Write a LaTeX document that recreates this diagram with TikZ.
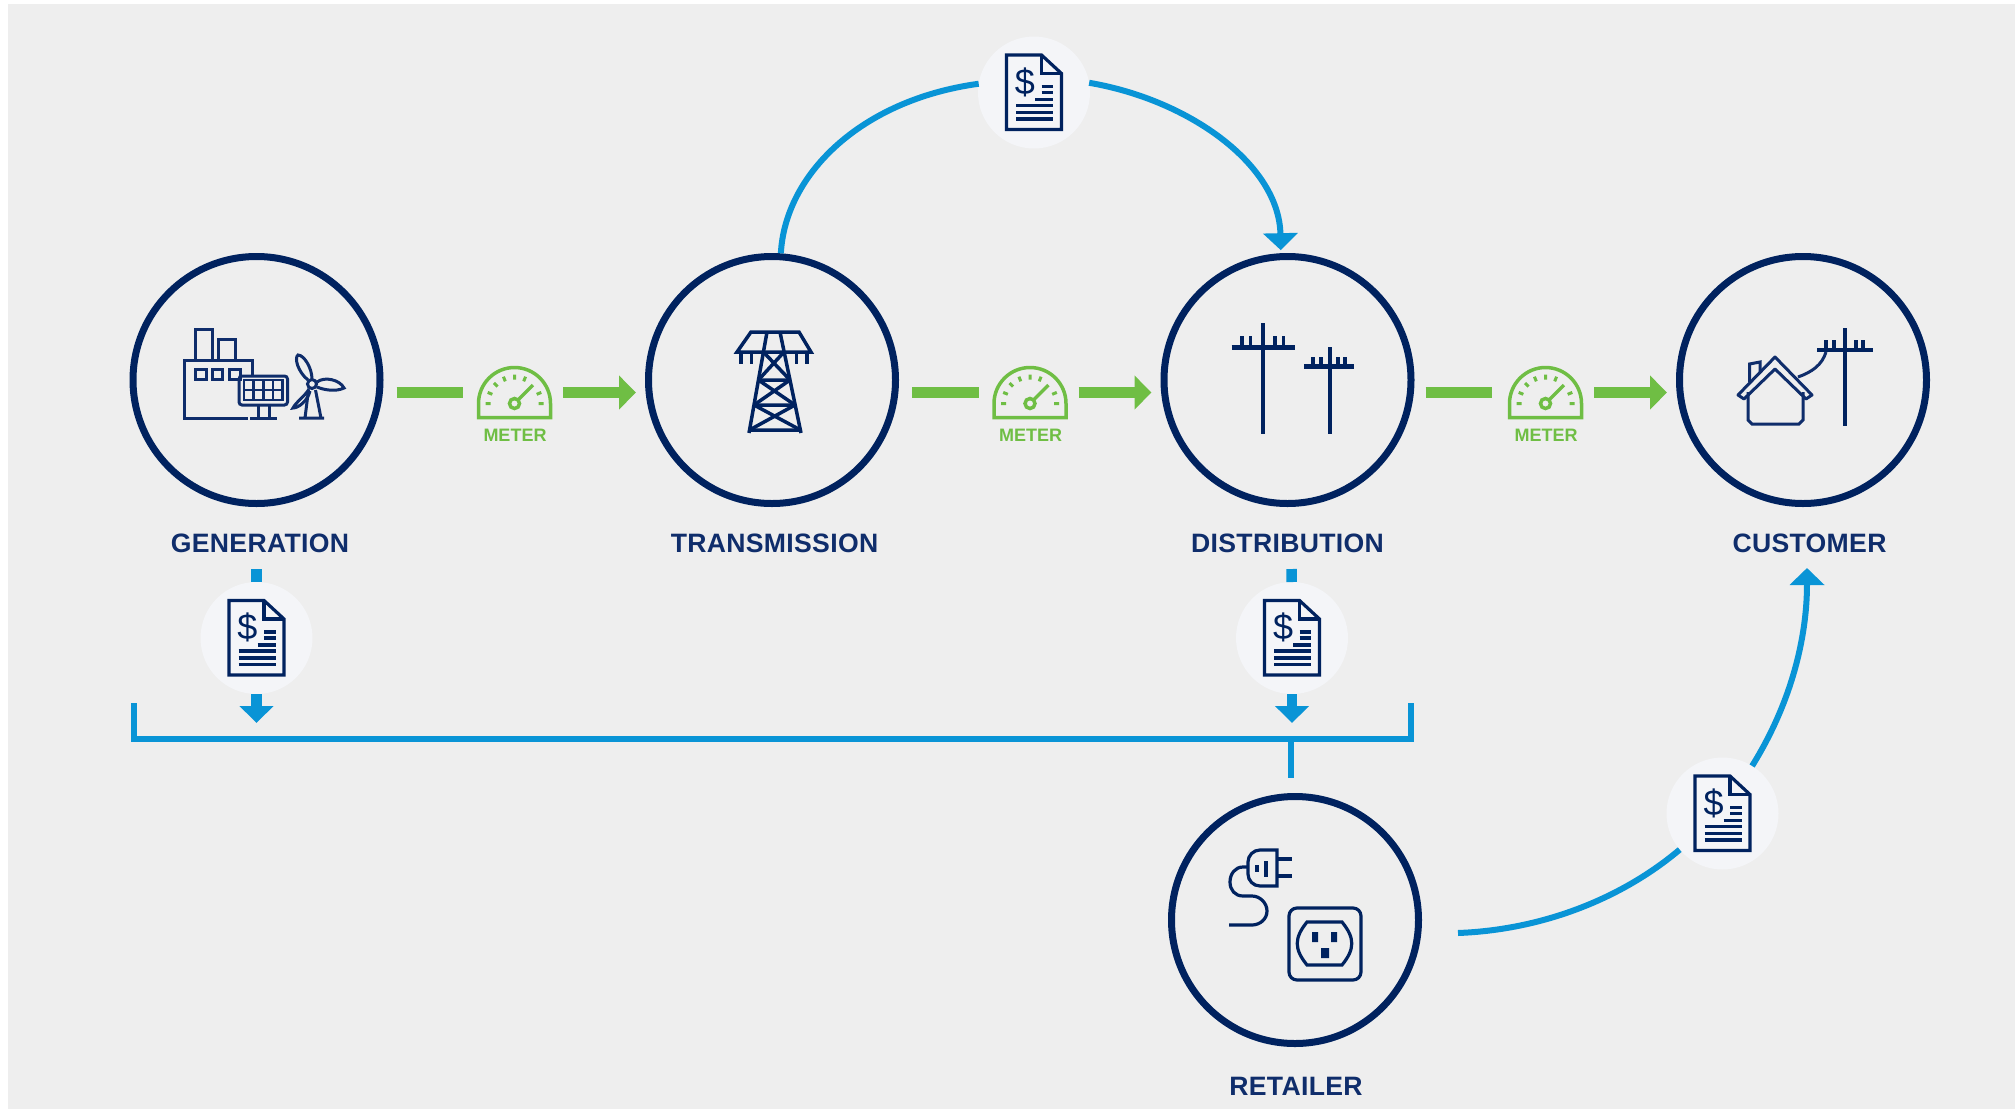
\documentclass[tikz,border=0pt]{standalone}
\usepackage{fontspec}
\setmainfont{Liberation Sans}
\usetikzlibrary{arrows.meta}
\definecolor{navy}{HTML}{00225F}
\definecolor{inkblue}{HTML}{0F2D6B}
\definecolor{skyblue}{HTML}{0994D6}
\definecolor{grassgreen}{HTML}{6FBE44}
\definecolor{pagegray}{HTML}{EEEEEE}
\definecolor{billgray}{HTML}{F4F5F8}

\begin{document}
\begin{tikzpicture}
[x=0.5pt,y=-0.5pt,
 station/.style={draw=navy,circle,line width=3.5pt,minimum size=123.5pt,inner sep=0pt},
 billspot/.style={fill=billgray,circle,minimum size=56pt,inner sep=0pt,outer sep=0pt},
 meterbox/.style={rectangle,minimum width=37.5pt,minimum height=26.5pt,inner sep=0pt,outer sep=0pt},
 tag/.style={anchor=base,text=inkblue,font={\fontsize{13.3}{16}\selectfont\bfseries\addfontfeature{LetterSpace=1.2}}},
 metertag/.style={anchor=base,text=grassgreen,font={\fontsize{9}{11}\selectfont\bfseries}},
 greenbar/.style={draw=grassgreen,line width=5.5pt},
 greenarrow/.style={greenbar,-{Triangle[length=8.5pt,width=16.5pt]}},
 bluebar/.style={draw=skyblue,line width=5.25pt},
 bluedrop/.style={bluebar,-{Triangle[length=8.5pt,width=16.5pt]}},
 blueline/.style={draw=skyblue,line width=3pt},
 bluecurve/.style={blueline,-{Triangle[length=8.5pt,width=17pt]}},
 bracket/.style={draw=skyblue,line width=3pt},
 glyph/.style={draw=navy,line width=1.6pt},
 thinglyph/.style={draw=inkblue,line width=1.5pt},
 pics/billglyph/.style={code={
   \draw[glyph] (-27.5,-37.5) -- (7.5,-37.5) -- (27.5,-19) -- (27.5,37) -- (-27.5,37) -- cycle;
   \draw[glyph] (7.5,-37.5) -- (7.5,-19) -- (27.5,-19);
   \draw[glyph] (7.5,-6) -- (19,-6) (7.5,0) -- (19,0) (1,7) -- (19,7);
   \draw[glyph] (-18,13) -- (19,13) (-18,20) -- (19,20) (-18,26.5) -- (19,26.5);
   \node (sign) at (-9,-10.5) [text=navy,inner sep=0pt,font={\fontsize{18}{20}\selectfont}] {\$};
 }},
 pics/meterglyph/.style={code={
   \draw[draw=grassgreen,line width=1.75pt] (-36,25) -- (-36,11) arc[start angle=180,end angle=360,radius=36] -- (36,25) -- cycle;
   \begin{scope}[shift={(0,11)}]
     \draw[draw=grassgreen,line width=1.75pt] (0,0) circle (2.5pt);
     \draw[draw=grassgreen,line width=1.75pt] (315:5) -- (315:26);
     \draw[draw=grassgreen,line width=1.5pt] (180:24) -- (180:29) (202.5:24) -- (202.5:29)
       (225:24) -- (225:29) (247.5:24) -- (247.5:29) (270:24) -- (270:29)
       (292.5:24) -- (292.5:29) (337.5:24) -- (337.5:29) (360:24) -- (360:29);
   \end{scope}
 }}]
\useasboundingbox (0,0) rectangle (2015,1109);
\fill[pagegray] (8,4) rectangle (2015,1109);

% stations
\node (n1) at (256.5,380) [station] {};
\node (n2) at (772,380) [station] {};
\node (n3) at (1287.5,380) [station] {};
\node (n4) at (1803,380) [station] {};
\node (n5) at (1295,920) [station] {};

\node (l1) at (260,552.5) [tag] {GENERATION};
\node (l2) at (774.5,552.5) [tag] {TRANSMISSION};
\node (l3) at (1287.5,552.5) [tag] {DISTRIBUTION};
\node (l4) at (1809.5,552.5) [tag] {CUSTOMER};
\node (l5) at (1296,1095) [tag] {RETAILER};

% meters
\node (m1) at (514.5,392.5) [meterbox] {};
\node (m2) at (1030,392.5) [meterbox] {};
\node (m3) at (1545.5,392.5) [meterbox] {};
\pic (g1) at (m1) {meterglyph};
\pic (g2) at (m2) {meterglyph};
\pic (g3) at (m3) {meterglyph};
\node (t1) at (515,441) [metertag] {METER};
\node (t2) at (1030.5,441) [metertag] {METER};
\node (t3) at (1546,441) [metertag] {METER};

\draw[greenbar,shorten <=6.5pt,shorten >=7pt] (n1.east |- m1) -- (m1);
\draw[greenbar,shorten <=6.5pt,shorten >=7pt] (n2.east |- m2) -- (m2);
\draw[greenbar,shorten <=5.5pt,shorten >=8pt] (n3.east |- m3) -- (m3);
\draw[greenarrow,shorten <=5.5pt,shorten >=4.5pt] (m1) -- (n2.west |- m1);
\draw[greenarrow,shorten <=5.5pt,shorten >=4.5pt] (m2) -- (n3.west |- m2);
\draw[greenarrow,shorten <=5.5pt,shorten >=4.5pt] (m3) -- (n4.west |- m3);

% bills
\node (b1) at (1034,92.5) [billspot] {};
\node (b2) at (256.5,638) [billspot] {};
\node (b3) at (1292,638) [billspot] {};
\node (b4) at (1722.5,813.5) [billspot] {};
\pic (i1) at (b1) {billglyph};
\pic (i2) at (b2) {billglyph};
\pic (i3) at (b3) {billglyph};
\pic (i4) at (b4) {billglyph};

\coordinate (k1) at (133.5,703);
\coordinate (k2) at (133.5,739);
\coordinate (k3) at (1410.5,739);
\coordinate (k4) at (1410.5,703);
\coordinate (d1) at (256.5,569);
\coordinate (d2) at (1291.5,569);
\coordinate (s1) at (1291,739);
\coordinate (r1) at (1458,933);
\coordinate (e1) at (1807,568);

\draw[blueline] (n2.86) .. controls (785,175) and (860,100) .. (b1.171);
\draw[bluecurve,shorten >=1.5pt] (b1.10) .. controls (1190,100) and (1279,165) .. (n3.93);
\draw[bluebar] (d1) -- (b2);
\draw[bluebar] (d2) -- (b3);
\draw[bluedrop,shorten >=8pt] (b2) -- (b2 |- k2);
\draw[bluedrop,shorten >=8pt] (b3) -- (b3 |- k3);
\draw[bracket] (k1) -- (k2) -- (k3) -- (k4);
\draw[bracket,shorten >=7.5pt] (s1) -- (s1 |- n5.north);
\draw[blueline] (r1) .. controls (1540,930) and (1620,900) .. (b4);
\draw[bluecurve] (b4) .. controls (1790,705) and (1807,640) .. (e1);

% generation icon
\draw[thinglyph] (247.5,418) -- (184,418) -- (184,360) -- (252,360) -- (252,377);
\draw[thinglyph] (195,360) -- (195,329) -- (212,329) -- (212,360);
\draw[thinglyph] (218,360) -- (218,339) -- (235,339) -- (235,360);
\draw[thinglyph] (195,369) rectangle (206,379) (212,369) rectangle (222.5,379) (229,369) rectangle (240,379);
\draw[thinglyph,rounded corners=1.5pt] (239,376) rectangle (287.5,405);
\draw[thinglyph,line width=1.25pt] (244,380) rectangle (282.5,400);
\draw[thinglyph,line width=1.25pt] (253.6,380) -- (253.6,400) (263.25,380) -- (263.25,400) (272.9,380) -- (272.9,400) (244,390) -- (282.5,390);
\draw[thinglyph] (258,405) -- (258,418) (269,405) -- (269,418) (250,418) -- (277,418);
\draw[thinglyph] (312,384) circle (2.25pt);
\draw[thinglyph] (308,380) .. controls (298,372) and (294,358) .. (298,355) .. controls (304,355) and (312,368) .. (312,379);
\draw[thinglyph] (317,382) .. controls (325,376) and (340,380) .. (344,388) .. controls (336,392) and (324,390) .. (317,387);
\draw[thinglyph] (309,389) .. controls (306,395) and (296,402) .. (293,408) .. controls (299,408) and (308,400) .. (310,391);
\draw[thinglyph] (308.5,390) -- (305,418) (315.5,390) -- (321,418) (299,418) -- (324,418);

% tower icon
\draw[glyph,line width=1.75pt] (737,352) -- (751,332) -- (799,332) -- (811,352) -- cycle;
\draw[glyph,line width=1.75pt] (741,352) -- (741,364) (751.5,352) -- (751.5,364) (796.5,352) -- (796.5,364) (807,352) -- (807,364);
\draw[glyph,line width=1.75pt] (767,332) -- (749,433) (780,332) -- (801,433) (758.4,380) -- (790,380) (754,405) -- (795,405) (749.5,430) -- (800.5,430);
\draw[glyph,line width=1.75pt] (763.4,352) -- (790,380) (784,352) -- (758.4,380) (758.4,380) -- (795,405) (790,380) -- (754,405) (754,405) -- (800.5,430) (795,405) -- (749.5,430);

% pole icons
\draw[glyph,line width=1.9pt] (1263,323) -- (1263,434) (1329.6,347) -- (1329.6,434);
\draw[glyph,line width=2.5pt] (1231.6,347) -- (1295,347) (1304,366) -- (1354,366);
\draw[glyph] (1242,336) -- (1242,347) (1250.5,336) -- (1250.5,347) (1275,336) -- (1275,347) (1283.7,336) -- (1283.7,347);
\draw[glyph] (1313,357) -- (1313,366) (1321,357) -- (1321,366) (1338,357) -- (1338,366) (1345,357) -- (1345,366);

% customer icon
\draw[glyph,line width=1.75pt] (1845,328) -- (1845,426);
\draw[glyph,line width=2.25pt] (1817,350) -- (1873,350);
\draw[glyph] (1826,340) -- (1826,350) (1834,340) -- (1834,350) (1856,340) -- (1856,350) (1863,340) -- (1863,350);
\draw[thinglyph] (1826,352) .. controls (1822,365) and (1812,372) .. (1798,377);
\draw[thinglyph,line join=round] (1775,357) -- (1812,395) -- (1806,399) -- (1775,369) -- (1744,399) -- (1738,395) -- cycle;
\draw[thinglyph] (1748,392) -- (1748,420) -- (1752,424) -- (1799,424) -- (1803,420) -- (1803,392);
\draw[thinglyph] (1749.5,382) -- (1749.5,364) -- (1760,362) -- (1760,372);

% retailer icon
\draw[glyph] (1277,850) [rounded corners=6pt] -- (1248,850) -- (1248,886) [sharp corners] -- (1277,886) -- cycle;
\draw[glyph] (1277,859) -- (1292,859) (1277,876) -- (1292,876) (1257,865) -- (1257,872) (1266,861) -- (1266,877);
\draw[glyph] (1248,867) -- (1243,867) .. controls (1235,867) and (1230,874) .. (1230,882) .. controls (1230,890) and (1235,896) .. (1243,896) -- (1252,896) .. controls (1260,896) and (1267,903) .. (1267,911) .. controls (1267,919) and (1260,925) .. (1252,925) -- (1229,925);
\draw[glyph,rounded corners=4pt] (1289,908) rectangle (1361,980);
\draw[glyph] (1307,922) -- (1342,922) .. controls (1355,938) and (1355,949) .. (1342,965) -- (1307,965) .. controls (1294,949) and (1294,938) .. (1307,922) -- cycle;
\fill[navy] (1312,932) rectangle (1318,942) (1331,932) rectangle (1337,942) (1321,948) rectangle (1329,958);
\end{tikzpicture}
\end{document}
